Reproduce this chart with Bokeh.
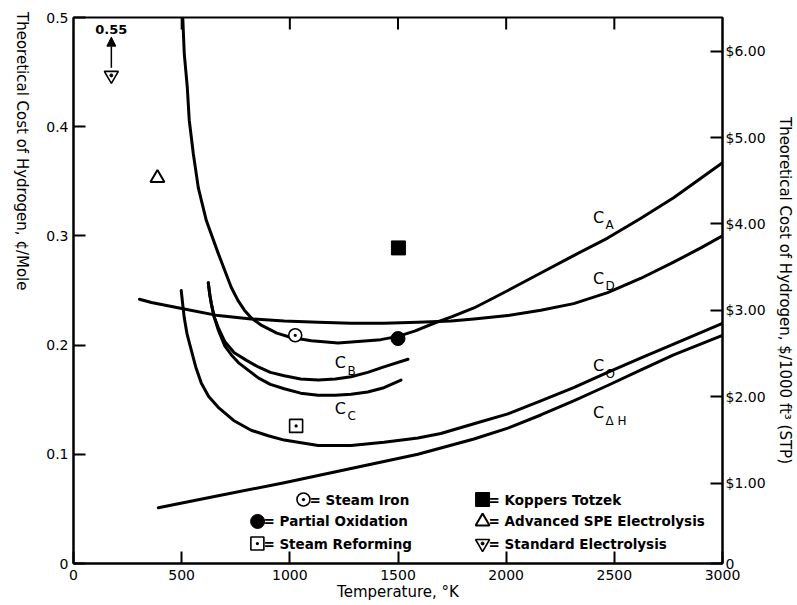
import math
from bokeh.plotting import figure
from bokeh.models import Range1d, LinearAxis, FixedTicker, Arrow, NormalHead
from bokeh.core.properties import value
from bokeh.embed import file_html
from bokeh.resources import INLINE

FONT = "DejaVu Sans"

# ---------------- data (Temperature K, cost cents/mole) ----------------
ca_x = [505, 512, 526, 535, 554, 577, 614, 669, 729, 760, 790, 821, 870, 940, 1006, 1100, 1223, 1300, 1361, 1420, 1500, 1580, 1666, 1750, 1851, 1930, 2008, 2160, 2312, 2469, 2621, 2774, 3000]
ca_y = [0.500, 0.467, 0.436, 0.406, 0.375, 0.344, 0.314, 0.284, 0.253, 0.241, 0.232, 0.225, 0.218, 0.211, 0.207, 0.204, 0.202, 0.203, 0.204, 0.205, 0.208, 0.213, 0.220, 0.226, 0.234, 0.242, 0.250, 0.266, 0.282, 0.298, 0.316, 0.335, 0.367]

cd_x = [305, 360, 512, 669, 821, 974, 1131, 1283, 1435, 1592, 1745, 1851, 2008, 2160, 2312, 2469, 2621, 2774, 2900, 3000]
cd_y = [0.242, 0.239, 0.233, 0.227, 0.224, 0.222, 0.221, 0.220, 0.220, 0.221, 0.222, 0.224, 0.227, 0.232, 0.238, 0.248, 0.261, 0.276, 0.289, 0.300]

cb_x = [623, 630, 637, 650, 669, 700, 743, 800, 854, 910, 974, 1050, 1131, 1210, 1283, 1360, 1435, 1546]
cb_y = [0.257, 0.246, 0.238, 0.226, 0.216, 0.203, 0.193, 0.186, 0.180, 0.175, 0.172, 0.169, 0.168, 0.169, 0.171, 0.175, 0.180, 0.187]

cc_x = [623, 630, 637, 650, 669, 700, 730, 762, 854, 910, 974, 1050, 1131, 1210, 1283, 1360, 1435, 1514]
cc_y = [0.257, 0.246, 0.238, 0.226, 0.214, 0.199, 0.191, 0.184, 0.170, 0.164, 0.160, 0.156, 0.154, 0.154, 0.155, 0.157, 0.161, 0.168]

co_x = [498, 505, 512, 525, 545, 565, 591, 625, 669, 740, 821, 900, 974, 1131, 1283, 1435, 1592, 1698, 1851, 2008, 2160, 2312, 2469, 2621, 2774, 3000]
co_y = [0.250, 0.237, 0.225, 0.210, 0.195, 0.180, 0.165, 0.153, 0.143, 0.131, 0.122, 0.117, 0.113, 0.108, 0.108, 0.111, 0.115, 0.119, 0.128, 0.137, 0.149, 0.161, 0.175, 0.188, 0.201, 0.220]

cdh_x = [392, 669, 974, 1283, 1592, 1851, 2008, 2160, 2312, 2469, 2621, 2774, 3000]
cdh_y = [0.051, 0.062, 0.074, 0.087, 0.100, 0.114, 0.124, 0.136, 0.149, 0.163, 0.177, 0.191, 0.209]

# process points
steam_iron_x, steam_iron_y = [1025], [0.209]
partial_ox_x, partial_ox_y = [1500], [0.206]
steam_ref_x, steam_ref_y = [1029], [0.126]
koppers_x, koppers_y = [1502], [0.289]
spe_x, spe_y = [388], [0.353]
std_x, std_y = [175], [0.447]
std_true_value = "0.55"

x_ticks = [0, 500, 1000, 1500, 2000, 2500, 3000]
y_ticks = [0, 0.1, 0.2, 0.3, 0.4, 0.5]
y_tick_labels = ["0", "0.1", "0.2", "0.3", "0.4", "0.5"]
usd_ticks = [0.07, 1, 2, 3, 4, 5, 6]
usd_tick_labels = ["0", "$1.00", "$2.00", "$3.00", "$4.00", "$5.00", "$6.00"]

# ---------------- figure ----------------
p = figure(width=797, height=605, output_backend="svg", toolbar_location=None,
           x_range=Range1d(0, 3000), y_range=Range1d(0, 0.5),
           x_axis_location=None, y_axis_location=None,
           min_border_left=73, min_border_right=75, min_border_top=17, min_border_bottom=42)
p.grid.grid_line_color = None
p.outline_line_color = "black"
p.outline_line_width = 2
p.background_fill_color = "white"
p.border_fill_color = "white"
p.extra_y_ranges = {"usd": Range1d(0.07, 6.39)}


def style_axis(ax):
    ax.axis_line_color = "black"
    ax.axis_line_width = 2
    ax.major_tick_in = 12
    ax.major_tick_out = 0
    ax.major_tick_line_width = 2
    ax.major_tick_line_color = "black"
    ax.minor_tick_line_color = None
    ax.major_label_text_font = FONT
    ax.major_label_text_font_size = "14px"
    ax.major_label_text_color = "black"
    ax.axis_label_text_font = FONT
    ax.axis_label_text_font_size = "15px"
    ax.axis_label_text_font_style = "normal"
    ax.axis_label_text_color = "black"


xb = LinearAxis(ticker=FixedTicker(ticks=x_ticks))
style_axis(xb)
xb.major_label_standoff = 6
xb.axis_label = "Temperature, °K"
xb.axis_label_standoff = 0
p.add_layout(xb, "below")

yl = LinearAxis(ticker=FixedTicker(ticks=y_ticks),
                major_label_overrides=dict(zip(y_ticks, y_tick_labels)))
style_axis(yl)
yl.major_label_standoff = 5
yl.axis_label = "Theoretical Cost of Hydrogen, ¢/Mole"
yl.axis_label_standoff = 21
if "axis_label_orientation" in LinearAxis.properties():
    yl.axis_label_orientation = -math.pi / 2
p.add_layout(yl, "left")

yr = LinearAxis(y_range_name="usd", ticker=FixedTicker(ticks=usd_ticks),
                major_label_overrides=dict(zip(usd_ticks, usd_tick_labels)))
style_axis(yr)
yr.major_label_standoff = 3
yr.axis_label = "Theoretical Cost of Hydrogen, $/1000 ft³ (STP)"
yr.axis_label_standoff = 7
p.add_layout(yr, "right")

# inward tick marks along the top edge, at the same temperatures as the bottom ticks
top_ticks = x_ticks[1:-1]
p.segment(x0=top_ticks, y0=[0.5] * len(top_ticks), x1=top_ticks, y1=[0.489] * len(top_ticks),
          line_color="black", line_width=2)

# ---------------- curves ----------------
for xs, ys in [(ca_x, ca_y), (cd_x, cd_y), (cb_x, cb_y), (cc_x, cc_y), (co_x, co_y), (cdh_x, cdh_y)]:
    p.line(xs, ys, line_color="black", line_width=3, line_join="round", line_cap="round")

# curve labels: (x, y, subscript)
curve_labels = [(2427, 0.317, "A"), (2427, 0.261, "D"), (2427, 0.181, "O"),
                (2427, 0.138, "Δ H"), (1234, 0.184, "B"), (1234, 0.142, "C")]
for lx, ly, sub in curve_labels:
    p.text(x=[lx], y=[ly], text=["C"], text_font=value(FONT), text_font_size="16px",
           text_align="center", text_baseline="middle", text_color="black")
    p.text(x=[lx], y=[ly], text=[sub], text_font=value(FONT), text_font_size="12px",
           text_align="left", text_baseline="middle", text_color="black",
           x_offset=7, y_offset=8)


# ---------------- markers ----------------
def m_steam_iron(x, y):
    p.scatter(x, y, marker="circle_dot", size=13, fill_color="white", line_color="black", line_width=1.6)


def m_partial_ox(x, y):
    p.scatter(x, y, marker="circle", size=14, fill_color="black", line_color="black")


def m_steam_ref(x, y):
    p.scatter(x, y, marker="square_dot", size=13, fill_color="white", line_color="black", line_width=1.6)


def m_koppers(x, y):
    p.scatter(x, y, marker="square", size=14, fill_color="black", line_color="black")


def m_spe(x, y):
    p.scatter(x, y, marker="triangle", size=14, fill_color="white", line_color="black", line_width=2)


def m_std(x, y):
    p.scatter(x, y, marker="inverted_triangle", size=14, fill_color="white", line_color="black", line_width=1.6)
    p.scatter(x, y, marker="circle", size=3, fill_color="black", line_color="black")


m_steam_iron(steam_iron_x, steam_iron_y)
m_partial_ox(partial_ox_x, partial_ox_y)
m_steam_ref(steam_ref_x, steam_ref_y)
m_koppers(koppers_x, koppers_y)
m_spe(spe_x, spe_y)
m_std(std_x, std_y)

# arrow indicating off-scale value
p.add_layout(Arrow(end=NormalHead(size=9, fill_color="black", line_color="black"),
                   x_start=std_x[0], y_start=0.454, x_end=std_x[0], y_end=0.482,
                   line_color="black", line_width=1.5))
p.text(x=[std_x[0]], y=[0.489], text=[std_true_value], text_font=value(FONT), text_font_size="13px",
       text_font_style="bold", text_align="center", text_baseline="middle", text_color="black")

# ---------------- legend (drawn inside plot) ----------------
legend_items = [
    (m_steam_iron, 1063, 0.0586, "= Steam Iron"),
    (m_partial_ox, 851, 0.0385, "= Partial Oxidation"),
    (m_steam_ref, 850, 0.0183, "= Steam Reforming"),
    (m_koppers, 1891, 0.0586, "= Koppers Totzek"),
    (m_spe, 1891, 0.0385, "= Advanced SPE Electrolysis"),
    (m_std, 1891, 0.0183, "= Standard Electrolysis"),
]
for fn, lx, ly, txt in legend_items:
    fn([lx], [ly])
    p.text(x=[lx], y=[ly], text=[txt], text_font=value(FONT), text_font_size="13.5px",
           text_font_style="bold", text_align="left", text_baseline="middle",
           text_color="black", x_offset=6)

open("out.html", "w").write(file_html(p, INLINE))
